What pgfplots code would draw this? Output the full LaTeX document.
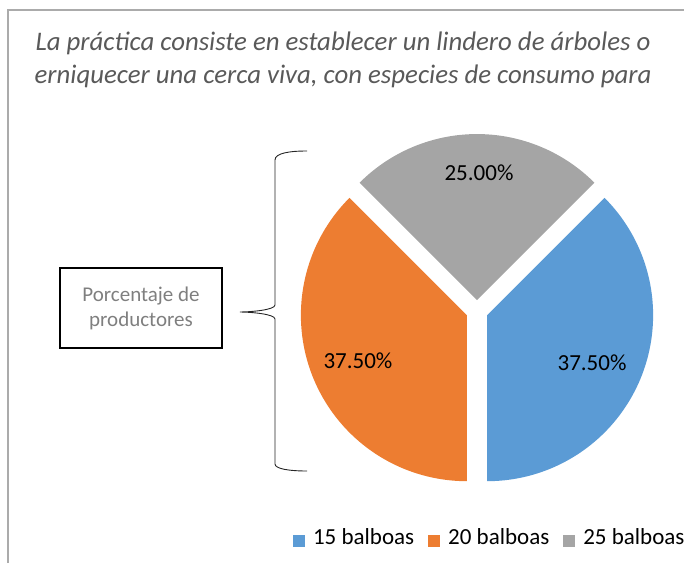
\documentclass[border=0pt]{standalone}
\usepackage{fontspec}
\setmainfont{Carlito}
\usepackage{pgfplots}
\pgfplotsset{compat=1.18}
\usepackage{pgfplotstable}
\definecolor{cblue}{HTML}{5B9BD5}
\definecolor{corange}{HTML}{ED7D31}
\definecolor{cgray}{HTML}{A5A5A5}
\definecolor{ctitle}{HTML}{595959}
\definecolor{cbox}{HTML}{7F7F7F}
\definecolor{cborder}{HTML}{ABABAB}

\pgfplotstableread{
pct
37.5
37.5
25.0
}\piedata

\begin{document}
\begin{tikzpicture}
\path[use as bounding box] (0pt,0pt) rectangle (684pt,563pt);
\pgfplotstablegetelem{0}{pct}\of\piedata \let\pA\pgfplotsretval
\pgfplotstablegetelem{1}{pct}\of\piedata \let\pB\pgfplotsretval
\pgfplotstablegetelem{2}{pct}\of\piedata \let\pC\pgfplotsretval
\pgfmathsetmacro\sA{45}
\pgfmathsetmacro\eA{\sA-3.6*\pA}
\pgfmathsetmacro\eB{\eA-3.6*\pB}
\pgfmathsetmacro\eC{\eB-3.6*\pC}
\pgfmathsetmacro\ex{0.066}
\pgfmathsetmacro\mA{(\sA+\eA)/2}
\pgfmathsetmacro\mB{(\eA+\eB)/2}
\pgfmathsetmacro\mC{(\eB+\eC)/2}
\pgfmathsetmacro\oxA{\ex*cos(\mA)}\pgfmathsetmacro\oyA{\ex*sin(\mA)}
\pgfmathsetmacro\oxB{\ex*cos(\mB)}\pgfmathsetmacro\oyB{\ex*sin(\mB)}
\pgfmathsetmacro\oxC{\ex*cos(\mC)}\pgfmathsetmacro\oyC{\ex*sin(\mC)}

% chart border
\draw[cborder, line width=1.5pt] (8pt,0pt) -- (8pt,553pt) -- (700pt,553pt);

% title
\node[anchor=base, text=ctitle, font=\itshape\fontsize{26.8}{32}\selectfont] at (343pt,512pt) {La práctica consiste en establecer un lindero de árboles o};
\node[anchor=base, text=ctitle, font=\itshape\fontsize{26.8}{32}\selectfont] at (343pt,479pt) {erniquecer una cerca viva, con especies de consumo para};

% annotation box and brace
\draw[black, line width=1.2pt] (60pt,215pt) rectangle (222pt,295pt);
\node[text=cbox, align=center, font=\fontsize{21}{25}\selectfont] at (141pt,255pt) {Porcentaje de\\productores};
\draw[black!85, line width=0.9pt] (307pt,412pt) .. controls (290pt,412pt) and (275pt,410pt) .. (275pt,403pt) -- (275pt,258pt)
  .. controls (275pt,253pt) and (250pt,251pt) .. (240pt,251pt)
  .. controls (250pt,251pt) and (275pt,249pt) .. (275pt,244pt) -- (275pt,99pt)
  .. controls (275pt,94pt) and (290pt,92pt) .. (307pt,92pt);

\begin{axis}[
  at={(311pt,86pt)}, anchor=south west,
  scale only axis, width=332pt, height=332pt,
  xmin=-1, xmax=1, ymin=-1, ymax=1, enlargelimits=false,
  hide axis, clip=false,
  legend columns=-1,
  legend image code/.code={\fill[#1] (0pt,-10pt) rectangle (12pt,2pt);},
  legend style={draw=none, fill=none, inner sep=0pt, outer sep=0pt,
    at={(axis description cs:-0.054,-0.184)}, anchor=west,
    font=\fontsize{23}{27}\selectfont,
    nodes={inner sep=0pt},
    /tikz/every odd column/.append style={column sep=8pt},
    /tikz/every even column/.append style={column sep=14pt}},
]
\addplot[fill=cblue, draw=none, domain=\eA:\sA, samples=91, variable=\t]
  ({\oxA+cos(\t)}, {\oyA+sin(\t)}) -- (axis cs:\oxA,\oyA) -- cycle;
\addlegendentry{15 balboas}
\addplot[fill=corange, draw=none, domain=\eB:\eA, samples=91, variable=\t]
  ({\oxB+cos(\t)}, {\oyB+sin(\t)}) -- (axis cs:\oxB,\oyB) -- cycle;
\addlegendentry{20 balboas}
\addplot[fill=cgray, draw=none, domain=\eC:\eB, samples=61, variable=\t]
  ({\oxC+cos(\t)}, {\oyC+sin(\t)}) -- (axis cs:\oxC,\oyC) -- cycle;
\addlegendentry{25 balboas}

\node[font=\fontsize{23}{27}\selectfont] at (axis cs:0.693,-0.313) {37.50\%};
\node[font=\fontsize{23}{27}\selectfont] at (axis cs:-0.717,-0.301) {37.50\%};
\node[font=\fontsize{23}{27}\selectfont] at (axis cs:0.012,0.832) {25.00\%};
\end{axis}
\end{tikzpicture}
\end{document}
